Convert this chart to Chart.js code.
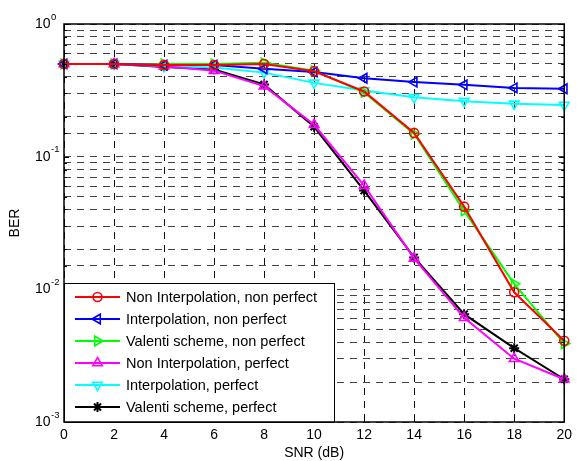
<!DOCTYPE html>
<html lang="en">
<head>
  <meta charset="UTF-8">
  <title>BER vs SNR</title>
  <script src="https://cdn.jsdelivr.net/npm/chart.js"></script>
  <style>
    html, body { margin: 0; padding: 0; background: #fff; }
    .wrap { width: 577px; height: 461px; }
  </style>
</head>
<body>
  <div class="wrap"><canvas id="berChart" width="577" height="461"></canvas></div>

  <script>
    const snr = [0, 2, 4, 6, 8, 10, 12, 14, 16, 18, 20];

    const nonInterpNonPerfect = [0.5, 0.5, 0.49, 0.49, 0.50, 0.44, 0.31, 0.151, 0.042, 0.0095, 0.0041];
    const interpNonPerfect    = [0.5, 0.5, 0.49, 0.49, 0.46, 0.435, 0.39, 0.365, 0.348, 0.33, 0.325];
    const valentiNonPerfect   = [0.5, 0.5, 0.50, 0.50, 0.51, 0.445, 0.305, 0.148, 0.039, 0.011, 0.0039];
    const nonInterpPerfect    = [0.5, 0.5, 0.48, 0.445, 0.34, 0.174, 0.0605, 0.0171, 0.0061, 0.003, 0.0021];
    const interpPerfect       = [0.5, 0.5, 0.48, 0.47, 0.43, 0.36, 0.315, 0.28, 0.262, 0.25, 0.245];
    const valentiPerfect      = [0.5, 0.5, 0.475, 0.455, 0.35, 0.168, 0.0555, 0.0174, 0.0065, 0.0036, 0.0021];

    const seriesNames = [
      "Non Interpolation, non perfect",
      "Interpolation, non perfect",
      "Valenti scheme, non perfect",
      "Non Interpolation, perfect",
      "Interpolation, perfect",
      "Valenti scheme, perfect"
    ];
    const seriesValues = [nonInterpNonPerfect, interpNonPerfect, valentiNonPerfect,
                          nonInterpPerfect, interpPerfect, valentiPerfect];
    const colors = ["#ff0000", "#0000ff", "#00ff00", "#ff00ff", "#00ffff", "#000000"];
    const markers = ["circle", "triangle", "triangle", "triangle", "triangle", "star"];
    const rotations = [0, -90, 90, 0, 180, 0];
    const radii = [4.5, 5.5, 5.5, 5.5, 5.5, 5];

    const yDecades = [1, 0.1, 0.01, 0.001];
    const yExponents = ["0", "-1", "-2", "-3"];

    const FONT = 'Arial, "Liberation Sans", sans-serif';

    const datasets = seriesNames.map((name, i) => ({
      label: name,
      data: snr.map((x, j) => ({ x, y: seriesValues[i][j] })),
      borderColor: colors[i],
      backgroundColor: "rgba(0,0,0,0)",
      borderWidth: 2,
      pointStyle: markers[i],
      rotation: rotations[i],
      pointRadius: radii[i],
      pointBorderWidth: i === 5 ? 2 : 1.6,
      pointBorderColor: colors[i],
      pointBackgroundColor: "rgba(0,0,0,0)",
      tension: 0,
      clip: false
    }));

    // axes box, tick marks, log labels, axis titles and the legend (MATLAB style)
    const matlabDecor = {
      id: "matlabDecor",
      afterDraw(chart) {
        const ctx = chart.ctx;
        const a = chart.chartArea;
        const xs = chart.scales.x;
        const ys = chart.scales.y;
        ctx.save();

        // tick marks inward
        ctx.strokeStyle = "#000";
        ctx.lineWidth = 1;
        ctx.setLineDash([]);
        ctx.beginPath();
        snr.forEach(v => {
          const px = Math.round(xs.getPixelForValue(v)) + 0.5;
          ctx.moveTo(px, a.bottom); ctx.lineTo(px, a.bottom - 5);
          ctx.moveTo(px, a.top); ctx.lineTo(px, a.top + 5);
        });
        ys.ticks.forEach(t => {
          const py = Math.round(ys.getPixelForValue(t.value)) + 0.5;
          const len = yDecades.includes(t.value) ? 5 : 3;
          ctx.moveTo(a.left, py); ctx.lineTo(a.left + len, py);
          ctx.moveTo(a.right, py); ctx.lineTo(a.right - len, py);
        });
        ctx.stroke();

        // legend box (south west)
        const lx = a.left, ly = 283, lw = 270, lh = a.bottom - ly;
        ctx.fillStyle = "#fff";
        ctx.fillRect(lx, ly, lw, lh);
        ctx.strokeStyle = "#000";
        ctx.lineWidth = 1;
        ctx.strokeRect(lx + 0.5, ly + 0.5, lw, lh);
        ctx.font = "14.5px " + FONT;
        ctx.textBaseline = "middle";
        ctx.textAlign = "left";
        chart.data.datasets.forEach((ds, i) => {
          const y = 297 + i * 22;
          ctx.strokeStyle = ds.borderColor;
          ctx.lineWidth = 2;
          ctx.beginPath();
          ctx.moveTo(75, y); ctx.lineTo(120, y);
          ctx.stroke();
          ctx.fillStyle = "rgba(0,0,0,0)";
          ctx.lineWidth = ds.pointBorderWidth;
          Chart.helpers.drawPoint(ctx, {
            pointStyle: ds.pointStyle,
            rotation: ds.rotation,
            radius: ds.pointRadius,
            borderWidth: ds.pointBorderWidth
          }, 97.5, y);
          ctx.fillStyle = "#000";
          ctx.fillText(ds.label, 126, y + 1);
        });

        // axes frame
        ctx.strokeStyle = "#000";
        ctx.lineWidth = 1.5;
        ctx.strokeRect(a.left, a.top, a.right - a.left, a.bottom - a.top);

        // y decade labels with superscripts
        ctx.fillStyle = "#000";
        ctx.textAlign = "left";
        ctx.textBaseline = "middle";
        yDecades.forEach((v, i) => {
          const py = ys.getPixelForValue(v);
          ctx.font = "14px " + FONT;
          ctx.fillText("10", 35, py);
          const w = ctx.measureText("10").width;
          ctx.font = "9.5px " + FONT;
          ctx.fillText(yExponents[i], 35 + w + 0.5, py - 7);
        });

        // axis titles
        ctx.font = "14px " + FONT;
        ctx.textAlign = "center";
        ctx.fillText("SNR (dB)", (a.left + a.right) / 2, 453);
        ctx.translate(15, (a.top + a.bottom) / 2);
        ctx.rotate(-Math.PI / 2);
        ctx.fillText("BER", 0, 0);
        ctx.restore();
      }
    };

    new Chart(document.getElementById("berChart").getContext("2d"), {
      type: "line",
      data: { datasets },
      options: {
        responsive: false,
        animation: false,
        layout: { padding: { top: 24, right: 7, left: 0, bottom: 0 } },
        plugins: {
          legend: { display: false },
          tooltip: { enabled: false }
        },
        scales: {
          x: {
            type: "linear",
            min: 0,
            max: 20,
            afterFit: s => { s.height = 39; },
            ticks: {
              stepSize: 2,
              padding: 5,
              color: "#000",
              font: { size: 14, family: FONT }
            },
            grid: { color: "#111", lineWidth: 1, drawTicks: false },
            border: { display: false, dash: [7, 6] }
          },
          y: {
            type: "logarithmic",
            min: 0.001,
            max: 1,
            afterFit: s => { s.width = 64; },
            ticks: { display: false },
            grid: { color: "#444", lineWidth: 1, drawTicks: false },
            border: { display: false, dash: [7, 6] }
          }
        }
      },
      plugins: [matlabDecor]
    });
  </script>
</body>
</html>
